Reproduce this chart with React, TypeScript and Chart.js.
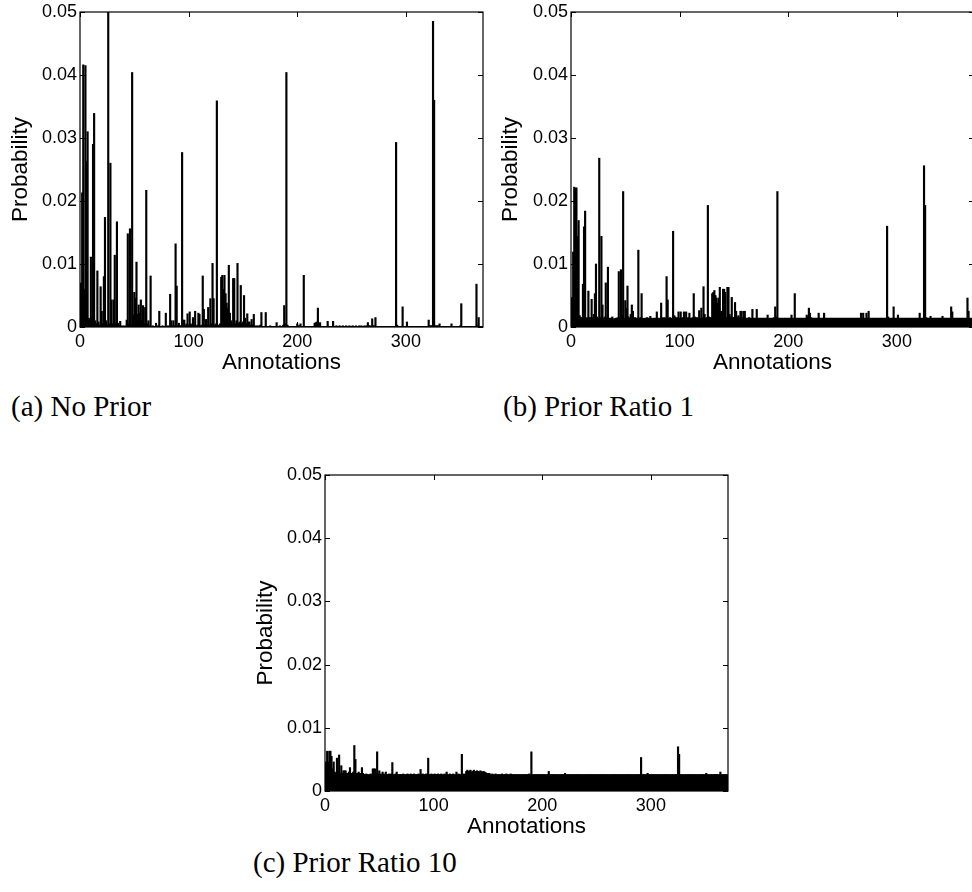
import { useEffect, useRef } from 'react';
import { Chart, registerables } from 'chart.js';

Chart.register(...registerables);

// ---- axes ----
const X_MAX = 371;
const xTickValues = [0, 100, 200, 300];
const xTickLabels = ['0', '100', '200', '300'];
const yTickValues = [0, 0.01, 0.02, 0.03, 0.04, 0.05];
const yTickLabels = ['0', '0.01', '0.02', '0.03', '0.04', '0.05'];
const xTitle = 'Annotations';
const yTitle = 'Probability';

// ---- data: probability (in units of 1e-4) for annotations 1..370 ----
const noPrior = [
  70, 213, 416, 60, 415, 263, 310, 14, 13, 111,
  15, 290, 339, 10, 5, 89, 8, 3, 64, 25,
  5, 80, 174, 10, 3, 500, 5, 260, 43, 5,
  43, 114, 5, 167, 6, 2, 9, 2, 1, 2,
  1, 2, 11, 148, 5, 156, 3, 404, 19, 55,
  46, 103, 20, 35, 22, 43, 10, 34, 5, 31,
  217, 5, 10, 2, 81, 1, 2, 1, 1, 6,
  1, 2, 25, 1, 1, 2, 1, 1, 22, 1,
  2, 1, 52, 10, 2, 10, 2, 132, 65, 2,
  6, 2, 2, 277, 11, 11, 2, 5, 21, 3,
  24, 5, 3, 15, 3, 25, 2, 3, 22, 20,
  2, 3, 81, 28, 3, 12, 3, 31, 3, 45,
  5, 101, 45, 3, 5, 359, 3, 2, 5, 79,
  82, 60, 82, 53, 38, 30, 98, 22, 10, 5,
  77, 77, 5, 10, 101, 6, 8, 66, 5, 8,
  50, 14, 5, 21, 8, 8, 3, 12, 3, 20,
  2, 1, 2, 1, 2, 3, 23, 1, 1, 1,
  23, 1, 1, 1, 2, 1, 1, 1, 1, 1,
  7, 1, 1, 2, 1, 1, 3, 34, 5, 404,
  3, 1, 1, 1, 1, 1, 1, 1, 1, 5,
  2, 2, 5, 1, 1, 82, 1, 1, 1, 1,
  1, 1, 1, 1, 1, 6, 7, 8, 30, 2,
  7, 1, 1, 1, 1, 1, 1, 9, 1, 1,
  1, 1, 9, 1, 1, 2, 1, 1, 2, 1,
  1, 2, 1, 1, 2, 1, 1, 2, 1, 1,
  2, 1, 1, 2, 1, 1, 2, 1, 2, 1,
  1, 2, 1, 2, 7, 2, 2, 1, 13, 2,
  2, 15, 1, 1, 1, 1, 1, 1, 1, 1,
  1, 1, 1, 1, 1, 1, 1, 1, 1, 1,
  293, 3, 1, 1, 1, 1, 32, 1, 1, 1,
  8, 1, 1, 1, 1, 1, 1, 1, 1, 1,
  1, 1, 1, 1, 1, 1, 1, 1, 1, 1,
  11, 2, 2, 2, 485, 360, 2, 2, 2, 2,
  5, 1, 1, 1, 1, 1, 1, 1, 1, 1,
  1, 5, 1, 1, 1, 1, 1, 1, 1, 2,
  37, 1, 1, 1, 1, 1, 1, 1, 1, 1,
  1, 1, 1, 1, 68, 2, 15, 1, 1, 1,
];

const priorRatio1 = [
  47, 119, 222, 220, 221, 144, 169, 18, 15, 15,
  68, 159, 184, 14, 15, 57, 15, 15, 44, 15,
  20, 53, 100, 16, 14, 268, 15, 144, 35, 14,
  16, 70, 15, 95, 14, 14, 14, 16, 13, 13,
  14, 14, 15, 88, 15, 91, 20, 215, 14, 42,
  30, 65, 16, 14, 20, 35, 25, 14, 15, 14,
  14, 122, 14, 15, 53, 14, 13, 14, 14, 15,
  14, 14, 17, 14, 13, 14, 14, 14, 24, 14,
  14, 13, 38, 15, 14, 15, 14, 80, 43, 14,
  15, 14, 14, 152, 18, 16, 14, 15, 24, 14,
  24, 14, 15, 24, 14, 24, 14, 15, 22, 14,
  14, 15, 53, 16, 14, 15, 14, 26, 14, 30,
  15, 64, 20, 14, 15, 193, 16, 14, 15, 53,
  55, 58, 50, 46, 38, 46, 63, 25, 20, 60,
  60, 55, 15, 63, 63, 20, 16, 47, 15, 15,
  39, 25, 15, 18, 15, 25, 25, 15, 25, 25,
  14, 14, 14, 15, 14, 14, 28, 14, 14, 14,
  28, 14, 14, 14, 14, 14, 14, 14, 14, 14,
  19, 14, 14, 14, 14, 14, 15, 32, 16, 215,
  14, 14, 14, 14, 14, 14, 14, 14, 14, 14,
  14, 14, 19, 14, 14, 53, 14, 14, 14, 14,
  14, 14, 14, 14, 14, 14, 19, 16, 30, 22,
  15, 14, 14, 14, 14, 14, 14, 22, 14, 14,
  14, 14, 22, 14, 14, 14, 14, 14, 14, 14,
  14, 14, 14, 14, 14, 14, 14, 14, 14, 14,
  14, 14, 14, 14, 14, 14, 14, 14, 14, 14,
  14, 14, 14, 14, 14, 14, 22, 14, 22, 14,
  14, 22, 14, 25, 14, 14, 14, 14, 14, 14,
  14, 14, 14, 14, 14, 14, 14, 14, 14, 14,
  160, 16, 14, 14, 14, 14, 32, 14, 14, 14,
  19, 14, 14, 14, 14, 14, 14, 14, 14, 14,
  14, 14, 14, 14, 14, 14, 14, 14, 14, 14,
  22, 14, 14, 14, 256, 193, 15, 14, 14, 14,
  17, 14, 14, 14, 14, 14, 14, 14, 14, 14,
  14, 17, 14, 14, 14, 14, 14, 14, 14, 32,
  24, 14, 14, 14, 14, 14, 14, 14, 14, 14,
  14, 14, 14, 14, 46, 25, 14, 14, 14, 14,
];

const priorRatio10 = [
  46, 63, 46, 63, 63, 55, 35, 46, 30, 28,
  52, 30, 57, 28, 40, 28, 32, 32, 32, 28,
  28, 30, 37, 28, 28, 30, 72, 50, 28, 28,
  30, 28, 28, 37, 28, 26, 26, 27, 26, 26,
  26, 27, 26, 35, 35, 35, 27, 62, 27, 32,
  27, 26, 30, 27, 26, 30, 26, 26, 27, 26,
  27, 45, 26, 26, 27, 30, 26, 26, 26, 26,
  26, 27, 26, 26, 26, 27, 26, 26, 27, 26,
  26, 27, 26, 26, 26, 27, 26, 34, 26, 27,
  26, 26, 27, 26, 52, 26, 26, 27, 26, 26,
  27, 26, 26, 27, 26, 26, 27, 26, 26, 27,
  26, 30, 26, 26, 27, 26, 26, 27, 26, 26,
  30, 26, 27, 26, 26, 58, 26, 27, 26, 31,
  33, 31, 32, 33, 30, 31, 33, 30, 31, 32,
  31, 30, 32, 31, 30, 31, 30, 29, 28, 27,
  28, 27, 26, 27, 26, 26, 27, 26, 26, 26,
  26, 26, 27, 26, 26, 26, 27, 26, 26, 26,
  27, 26, 26, 26, 26, 26, 26, 26, 26, 26,
  26, 26, 26, 26, 26, 26, 26, 27, 26, 62,
  26, 26, 26, 26, 26, 26, 26, 26, 26, 26,
  26, 26, 26, 26, 26, 31, 26, 26, 26, 26,
  26, 26, 26, 26, 26, 26, 26, 26, 26, 26,
  28, 26, 26, 26, 26, 26, 26, 26, 26, 26,
  26, 26, 26, 26, 26, 26, 26, 26, 26, 26,
  26, 26, 26, 26, 26, 26, 26, 26, 26, 26,
  26, 26, 26, 26, 26, 26, 26, 26, 26, 26,
  26, 26, 26, 26, 26, 26, 26, 26, 26, 26,
  26, 26, 26, 26, 26, 26, 26, 26, 26, 26,
  26, 26, 26, 26, 26, 26, 26, 26, 26, 26,
  53, 26, 26, 26, 26, 26, 28, 26, 26, 26,
  26, 26, 26, 26, 26, 26, 26, 26, 26, 26,
  26, 26, 26, 26, 26, 26, 26, 26, 26, 26,
  26, 26, 26, 26, 70, 58, 26, 26, 26, 26,
  26, 26, 26, 26, 26, 26, 26, 26, 26, 26,
  26, 26, 26, 26, 26, 26, 26, 26, 26, 26,
  28, 26, 26, 26, 26, 26, 26, 26, 26, 26,
  26, 26, 26, 30, 26, 26, 26, 26, 26, 26,
];

const VALUE_UNIT = 1e-4;

const SANS = "'Liberation Sans', Arial, Helvetica, sans-serif";
const SERIF = "'Liberation Serif', 'Times New Roman', serif";

const framePlugin = {
  id: 'matlabFrame',
  afterDatasetsDraw(chart: any) {
    const { ctx, chartArea: a, scales } = chart;
    const x = scales.x;
    const y = scales.y;
    const L = 5;
    ctx.save();
    ctx.strokeStyle = '#000';
    ctx.lineWidth = 1.2;
    ctx.strokeRect(a.left, a.top, a.right - a.left, a.bottom - a.top);
    ctx.lineWidth = 1;
    ctx.beginPath();
    x.ticks.forEach((t: any) => {
      const px = Math.round(x.getPixelForValue(t.value)) + 0.5;
      ctx.moveTo(px, a.bottom);
      ctx.lineTo(px, a.bottom - L);
      ctx.moveTo(px, a.top);
      ctx.lineTo(px, a.top + L);
    });
    y.ticks.forEach((t: any) => {
      const py = Math.round(y.getPixelForValue(t.value)) + 0.5;
      ctx.moveTo(a.left, py);
      ctx.lineTo(a.left + L, py);
      ctx.moveTo(a.right, py);
      ctx.lineTo(a.right - L, py);
    });
    ctx.stroke();
    ctx.restore();
  },
};

type PanelProps = {
  values: number[];
  left: number;
  top: number;
  width: number;
  height: number;
  plot: { left: number; top: number; right: number; bottom: number };
};

function Panel({ values, left, top, width, height, plot }: PanelProps) {
  const ref = useRef<HTMLCanvasElement>(null);
  useEffect(() => {
    const tickFont = { family: SANS, size: 18, lineHeight: 1 };
    const titleFont = { family: SANS, size: 22.5, lineHeight: 1 };
    const chart = new Chart(ref.current as HTMLCanvasElement, {
      type: 'bar',
      data: {
        datasets: [
          {
            data: values.map((v, i) => ({ x: i + 1, y: v * VALUE_UNIT })),
            backgroundColor: '#000',
            borderWidth: 0,
            barThickness: 1.5,
          } as any,
        ],
      },
      options: {
        responsive: false,
        animation: false,
        layout: { padding: { left: 0, top: plot.top, right: width - plot.right, bottom: 0 } },
        plugins: { legend: { display: false }, tooltip: { enabled: false } },
        scales: {
          x: {
            type: 'linear',
            min: 0,
            max: X_MAX,
            offset: false,
            afterBuildTicks: (s: any) => {
              s.ticks = xTickValues.map((v) => ({ value: v }));
            },
            afterFit: (s: any) => {
              s.height = height - plot.bottom;
            },
            ticks: {
              callback: (v: any) => {
                const i = xTickValues.indexOf(Number(v));
                return i >= 0 ? xTickLabels[i] : '';
              },
              font: tickFont,
              color: '#000',
              padding: 6.5,
              maxRotation: 0,
              autoSkip: false,
            },
            grid: { display: false, drawTicks: false, offset: false },
            border: { display: false },
            title: {
              display: true,
              text: xTitle,
              color: '#000',
              font: titleFont,
              padding: { top: 0, bottom: height - plot.bottom - 36 - 11.25 },
            },
          } as any,
          y: {
            type: 'linear',
            min: 0,
            max: 0.05,
            afterBuildTicks: (s: any) => {
              s.ticks = yTickValues.map((v) => ({ value: v }));
            },
            afterFit: (s: any) => {
              s.width = plot.left;
            },
            ticks: {
              callback: (v: any) => {
                const i = yTickValues.findIndex((t) => Math.abs(t - Number(v)) < 1e-9);
                return i >= 0 ? yTickLabels[i] : '';
              },
              font: tickFont,
              color: '#000',
              padding: 3,
              autoSkip: false,
            },
            grid: { display: false, drawTicks: false },
            border: { display: false },
            title: {
              display: true,
              text: yTitle,
              color: '#000',
              font: titleFont,
              padding: { top: 10, bottom: 0 },
            },
          } as any,
        },
      },
      plugins: [framePlugin],
    });
    return () => chart.destroy();
  }, [values, width, height, plot]);

  return (
    <canvas
      ref={ref}
      width={width}
      height={height}
      style={{ position: 'absolute', left, top, width, height }}
    />
  );
}

const captionStyle = (left: number, top: number): any => ({
  position: 'absolute',
  left,
  top,
  fontFamily: SERIF,
  fontSize: 29,
  lineHeight: '29px',
  color: '#000',
  whiteSpace: 'nowrap',
});

const plotA = { left: 80, top: 11, right: 483, bottom: 327 };
const plotB = { left: 81, top: 11, right: 484, bottom: 327 };
const plotC = { left: 80, top: 11, right: 483, bottom: 328 };

export default function App() {
  return (
    <div
      style={{
        position: 'absolute',
        left: 0,
        top: 0,
        width: 972,
        height: 892,
        overflow: 'hidden',
        background: '#fff',
      }}
    >
      <Panel values={noPrior} left={0} top={0} width={490} height={380} plot={plotA} />
      <Panel values={priorRatio1} left={490} top={0} width={490} height={380} plot={plotB} />
      <Panel values={priorRatio10} left={245} top={463} width={490} height={380} plot={plotC} />
      <div style={captionStyle(11, 392)}>(a) No Prior</div>
      <div style={captionStyle(503, 392)}>(b) Prior Ratio 1</div>
      <div style={captionStyle(253, 848)}>(c) Prior Ratio 10</div>
    </div>
  );
}
